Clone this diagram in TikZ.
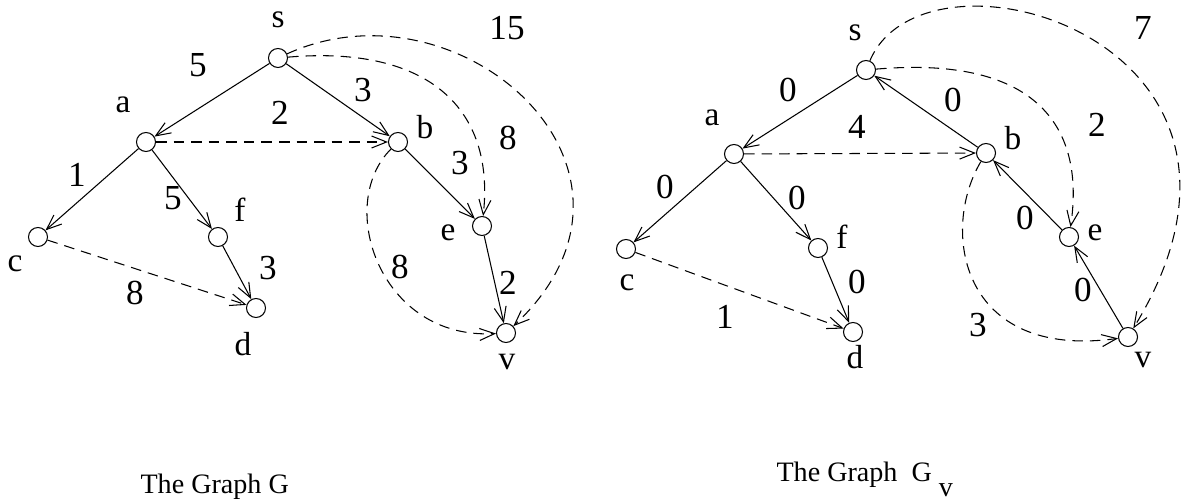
\documentclass[tikz,border=0pt]{standalone}
\usepackage{fontspec}
\setmainfont{Liberation Serif}
\usetikzlibrary{arrows.meta,positioning}

\begin{document}
\begin{tikzpicture}[x=0.02cm,y=-0.02cm,>={Straight Barb[length=0.3cm,width=0.24cm]},line width=0.6pt]
  \tikzstyle{vert}=[draw,circle,minimum size=0.38cm,inner sep=0pt]
  \tikzstyle{vlabel}=[font=\fontsize{19}{22}\selectfont,inner sep=0pt]
  \tikzstyle{wt}=[font=\fontsize{20}{24}\selectfont,inner sep=0pt]
  \tikzstyle{extra}=[->,dash pattern=on 6pt off 4pt]
  \tikzstyle{gcap}=[font=\fontsize{16}{19}\selectfont,inner sep=0pt,anchor=base west]
  \useasboundingbox (0,0) rectangle (1192,502);

  % the graph G
  \node[vert] (s) at (278,58) {};
  \node[vert] (a) at (146,142) {};
  \node[vert] (b) at (398,142) {};
  \node[vert] (c) at (38,237) {};
  \node[vert] (f) at (218,237) {};
  \node[vert] (e) at (482,226) {};
  \node[vert] (d) at (256,308) {};
  \node[vert] (v) at (506,333) {};
  \node[vlabel] (ns) at (278,20) {s};
  \node[vlabel] (na) at (123,105) {a};
  \node[vlabel] (nb) at (425,127) {b};
  \node[vlabel] (nc) at (15,264) {c};
  \node[vlabel] (nf) at (240,210) {f};
  \node[vlabel] (ne) at (448,233) {e};
  \node[vlabel] (nd) at (243,344) {d};
  \node[vlabel] (nv) at (507,362) {v};
  \draw[->] (s) -- (a);
  \draw[->] (s) -- (b);
  \draw[->] (a) -- (c);
  \draw[->] (a) -- (f);
  \draw[->] (f) -- (d);
  \draw[->] (b) -- (e);
  \draw[->] (e) -- (v);
  \draw[extra] (a) -- (b);
  \draw[extra] (c) -- (d);
  \draw[extra] (s) .. controls (430,45) and (495,110) .. (e);
  \draw[extra] (s) .. controls (460,-25) and (680,170) .. (v);
  \draw[extra] (b) .. controls (335,205) and (380,340) .. (v);
  \node[wt] (wsa) at (198,65) {5};
  \node[wt] (wsb) at (363,90) {3};
  \node[wt] (wab) at (280,113) {2};
  \node[wt] (wac) at (77,175) {1};
  \node[wt] (waf) at (173,198) {5};
  \node[wt] (wfd) at (268,268) {3};
  \node[wt] (wcd) at (135,293) {8};
  \node[wt] (wbe) at (460,163) {3};
  \node[wt] (wse) at (508,138) {8};
  \node[wt] (wsv) at (507,28) {15};
  \node[wt] (wbv) at (400,267) {8};
  \node[wt] (wev) at (508,283) {2};
  \node[gcap] (capg) at (140,494) {The Graph G};

  % the graph G_v
  \node[vert] (s2) at (866,70) {};
  \node[vert] (a2) at (734,154) {};
  \node[vert] (b2) at (986,153) {};
  \node[vert] (c2) at (626,249) {};
  \node[vert] (f2) at (818,248) {};
  \node[vert] (e2) at (1069,237) {};
  \node[vert] (d2) at (853,332) {};
  \node[vert] (v2) at (1128,337) {};
  \node[vlabel] (ns2) at (855,33) {s};
  \node[vlabel] (na2) at (712,118) {a};
  \node[vlabel] (nb2) at (1013,138) {b};
  \node[vlabel] (nc2) at (627,283) {c};
  \node[vlabel] (nf2) at (842,237) {f};
  \node[vlabel] (ne2) at (1095,233) {e};
  \node[vlabel] (nd2) at (855,357) {d};
  \node[vlabel] (nv2) at (1143,360) {v};
  \draw[->] (s2) -- (a2);
  \draw[->] (a2) -- (c2);
  \draw[->] (a2) -- (f2);
  \draw[->] (f2) -- (d2);
  \draw[->] (b2) -- (s2);
  \draw[->] (e2) -- (b2);
  \draw[->] (v2) -- (e2);
  \draw[extra] (a2) -- (b2);
  \draw[extra] (c2) -- (d2);
  \draw[extra] (s2) .. controls (1040,55) and (1085,130) .. (e2);
  \draw[extra] (s2) .. controls (925,-70) and (1310,40) .. (v2);
  \draw[extra] (b2) .. controls (940,230) and (960,360) .. (v2);
  \node[wt] (wsa2) at (788,90) {0};
  \node[wt] (wab2) at (857,127) {4};
  \node[wt] (wac2) at (665,187) {0};
  \node[wt] (waf2) at (797,198) {0};
  \node[wt] (wfd2) at (857,282) {0};
  \node[wt] (wcd2) at (725,317) {1};
  \node[wt] (wbs2) at (953,100) {0};
  \node[wt] (wse2) at (1097,125) {2};
  \node[wt] (wsv2) at (1143,28) {7};
  \node[wt] (web2) at (1025,218) {0};
  \node[wt] (wve2) at (1083,290) {0};
  \node[wt] (wbv2) at (978,325) {3};
  \node[gcap] (capgv) at (776,481) {The Graph\ \ G\raisebox{-9pt}{\ v}};
\end{tikzpicture}
\end{document}
